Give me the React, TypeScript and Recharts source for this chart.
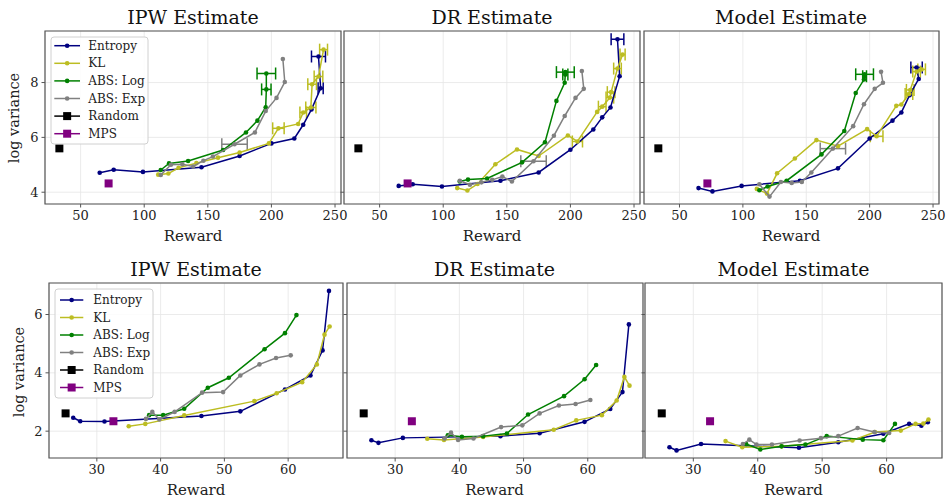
import React from "react";
import {
  ScatterChart,
  Scatter,
  XAxis,
  YAxis,
  CartesianGrid,
  ErrorBar,
  ReferenceArea,
} from "recharts";

const FONT = "'DejaVu Serif', serif";
const NAVY = "#000080";
const OLIVE = "#bcbd22";
const GREEN = "#008000";
const GREY = "#808080";
const BLACK = "#000000";
const PURPLE = "#800080";

const LABELS = ["Entropy", "KL", "ABS: Log", "ABS: Exp", "Random", "MPS"];
const TITLES = ["IPW Estimate", "DR Estimate", "Model Estimate"];

// ---- top row (reward 0-250) ----
const TOP_X_TICKS = [50, 100, 150, 200, 250];
const TOP_Y_TICKS = [4, 6, 8];

const TOP_X_ENTROPY = [65, 76, 99, 145, 175, 200, 218, 225, 231.5, 238.7, 237];
const TOP_IPW_ENTROPY = [4.71, 4.82, 4.74, 4.91, 5.32, 5.78, 5.96, 6.46, 7.02, 7.79, 8.95];
const TOP_DR_ENTROPY = [4.23, 4.29, 4.21, 4.42, 4.72, 5.55, 6.29, 6.73, 7.09, 8.23, 9.58];
const TOP_MODEL_ENTROPY = [4.15, 4.03, 4.23, 4.42, 4.87, 5.96, 6.61, 6.91, 7.54, 8.13, 8.55];
const TOP_IPW_ENTROPY_ERR = [0, 0, 0, 0, 0, 0, 0, 0, 0, 2, 5.5];
const TOP_DR_ENTROPY_ERR = [0, 0, 0, 0, 0, 0, 0, 0, 0, 0, 5];
const TOP_MODEL_ENTROPY_ERR = [0, 0, 0, 0, 0, 0, 0, 0, 0, 0, 4.5];

const TOP_X_KL = [111, 119, 127, 141, 158, 175, 198, 205.5, 221, 225, 231, 232, 237, 241];
const TOP_IPW_KL = [4.64, 4.68, 4.89, 5.06, 5.26, 5.45, 5.78, 6.33, 6.49, 6.91, 7.09, 7.94, 8.22, 9.2];
const TOP_DR_KL = [4.15, 4.06, 4.3, 5.02, 5.56, 5.32, 6.07, 5.85, 6.93, 7.12, 7.45, 7.65, 8.51, 9.02];
const TOP_MODEL_KL = [4.12, 3.95, 4.69, 5.23, 5.9, 5.68, 6.3, 6.04, 7.15, 7.2, 7.58, 7.73, 8.4, 8.48];
const TOP_IPW_KL_ERR = [0, 0, 0, 0, 0, 0, 0, 4.5, 0, 2.6, 4, 3.4, 3.4, 3.1];
const TOP_DR_KL_ERR = [0, 0, 0, 0, 0, 0, 0, 4, 0, 3, 3, 3, 3, 2];
const TOP_MODEL_KL_ERR = [0, 0, 0, 0, 0, 0, 0, 5, 0, 0, 3, 3, 3, 3];

const TOP_X_LOG = [113, 119.5, 134.5, 162, 180, 189, 195.5, 196, 196];
const TOP_IPW_LOG = [4.81, 5.05, 5.14, 5.54, 6.18, 6.61, 7.1, 7.75, 8.33];
const TOP_DR_LOG = [4.39, 4.46, 4.5, 5.09, 5.82, 7.33, 7.99, 8.29, 8.38];
const TOP_MODEL_LOG = [4.07, 4.21, 4.42, 5.38, 6.23, 7.62, 8.11, 8.23, 8.3];
const TOP_IPW_LOG_ERR = [0, 0, 0, 0, 0, 0, 0, 3.7, 7.3];
const TOP_DR_LOG_ERR = [0, 0, 0, 0, 0, 0, 0, 2, 7];
const TOP_MODEL_LOG_ERR = [0, 0, 0, 0, 0, 0, 0, 1.5, 7];

const TOP_X_EXP = [113, 121, 130, 138.5, 146.5, 154, 171, 187, 195.5, 204, 210.5, 209];
const TOP_IPW_EXP = [4.63, 5.0, 5.02, 4.94, 5.15, 5.3, 5.75, 6.18, 6.96, 7.44, 8.02, 8.86];
const TOP_DR_EXP = [4.42, 4.27, 4.36, 4.45, 4.57, 4.39, 5.13, 6.06, 6.78, 7.44, 7.77, 8.42];
const TOP_MODEL_EXP = [4.29, 3.84, 4.37, 4.34, 4.37, 4.72, 5.59, 6.41, 7.21, 7.77, 7.99, 8.39];
const TOP_EXP_ERR = [0, 0, 0, 0, 0, 0, 10, 0, 0, 0, 0, 0];

const TOP_RANDOM = [33.3, 5.6];
const TOP_MPS = [72, 4.32];

// ---- bottom row (reward 20-70) ----
const BOT_X_TICKS = [30, 40, 50, 60];
const BOT_Y_TICKS = [2, 4, 6];

const BOT_X_ENTROPY = [26.3, 27.4, 31.2, 46.4, 52.5, 59.5, 63.5, 65.4, 66.4];
const BOT_IPW_ENTROPY = [2.46, 2.34, 2.33, 2.52, 2.68, 3.43, 3.91, 4.77, 6.81];
const BOT_DR_ENTROPY = [1.69, 1.6, 1.77, 1.83, 1.93, 2.32, 2.76, 3.34, 5.66];
const BOT_MODEL_ENTROPY = [1.45, 1.34, 1.56, 1.43, 1.62, 1.91, 2.25, 2.19, 2.31];

const BOT_X_KL = [35, 37.6, 43.7, 54.7, 58.2, 62.2, 64.5, 65.7, 66.5];
const BOT_IPW_KL = [2.17, 2.25, 2.54, 3.03, 3.3, 3.68, 4.29, 5.31, 5.59];
const BOT_DR_KL = [1.74, 1.7, 1.8, 2.05, 2.37, 2.55, 3.05, 3.86, 3.56];
const BOT_MODEL_KL = [1.66, 1.45, 1.48, 1.68, 1.97, 2.02, 2.25, 2.26, 2.4];

const BOT_X_LOG = [38.2, 40.4, 43.7, 47.4, 50.7, 56.3, 59.5, 61.3];
const BOT_IPW_LOG = [2.55, 2.55, 2.77, 3.49, 3.83, 4.81, 5.36, 5.98];
const BOT_DR_LOG = [1.86, 1.81, 1.83, 1.92, 2.57, 3.2, 3.78, 4.27];
const BOT_MODEL_LOG = [1.56, 1.37, 1.48, 1.54, 1.83, 1.71, 1.69, 2.25];

const BOT_X_EXP = [37.7, 38.7, 39.8, 42.2, 46.5, 49.8, 52.5, 55.5, 58.1, 60.4];
const BOT_IPW_EXP = [2.42, 2.66, 2.4, 2.66, 3.32, 3.34, 3.91, 4.29, 4.51, 4.6];
const BOT_DR_EXP = [1.75, 1.95, 1.7, 1.75, 2.14, 2.2, 2.61, 2.88, 2.93, 3.07];
const BOT_MODEL_EXP = [1.56, 1.71, 1.54, 1.54, 1.68, 1.76, 1.83, 2.11, 1.97, 1.94];

const BOT_RANDOM = [25.1, 2.61];
const BOT_MPS = [32.6, 2.34];

type Pt = { x: number; y: number; ex: number };
type Series = { name: string; color: string; square?: boolean; data: Pt[] };

function pts(xs: number[], ys: number[], ex?: number[]): Pt[] {
  return xs.map((x, i) => ({ x, y: ys[i], ex: ex ? ex[i] : 0 }));
}

function single(p: number[]): Pt[] {
  return [{ x: p[0], y: p[1], ex: 0 }];
}

const COLORS = [NAVY, OLIVE, GREEN, GREY, BLACK, PURPLE];

function makeSeries(lines: Pt[][], random: number[], mps: number[]): Series[] {
  const out: Series[] = lines.map((d, i) => ({ name: LABELS[i], color: COLORS[i], data: d }));
  out.push({ name: "Random", color: BLACK, square: true, data: single(random) });
  out.push({ name: "MPS", color: PURPLE, square: true, data: single(mps) });
  return out;
}

const TOP_SERIES = [
  makeSeries(
    [
      pts(TOP_X_ENTROPY, TOP_IPW_ENTROPY, TOP_IPW_ENTROPY_ERR),
      pts(TOP_X_KL, TOP_IPW_KL, TOP_IPW_KL_ERR),
      pts(TOP_X_LOG, TOP_IPW_LOG, TOP_IPW_LOG_ERR),
      pts(TOP_X_EXP, TOP_IPW_EXP, TOP_EXP_ERR),
    ],
    TOP_RANDOM,
    TOP_MPS
  ),
  makeSeries(
    [
      pts(TOP_X_ENTROPY, TOP_DR_ENTROPY, TOP_DR_ENTROPY_ERR),
      pts(TOP_X_KL, TOP_DR_KL, TOP_DR_KL_ERR),
      pts(TOP_X_LOG, TOP_DR_LOG, TOP_DR_LOG_ERR),
      pts(TOP_X_EXP, TOP_DR_EXP, TOP_EXP_ERR),
    ],
    TOP_RANDOM,
    TOP_MPS
  ),
  makeSeries(
    [
      pts(TOP_X_ENTROPY, TOP_MODEL_ENTROPY, TOP_MODEL_ENTROPY_ERR),
      pts(TOP_X_KL, TOP_MODEL_KL, TOP_MODEL_KL_ERR),
      pts(TOP_X_LOG, TOP_MODEL_LOG, TOP_MODEL_LOG_ERR),
      pts(TOP_X_EXP, TOP_MODEL_EXP, TOP_EXP_ERR),
    ],
    TOP_RANDOM,
    TOP_MPS
  ),
];

const BOT_SERIES = [
  makeSeries(
    [
      pts(BOT_X_ENTROPY, BOT_IPW_ENTROPY),
      pts(BOT_X_KL, BOT_IPW_KL),
      pts(BOT_X_LOG, BOT_IPW_LOG),
      pts(BOT_X_EXP, BOT_IPW_EXP),
    ],
    BOT_RANDOM,
    BOT_MPS
  ),
  makeSeries(
    [
      pts(BOT_X_ENTROPY, BOT_DR_ENTROPY),
      pts(BOT_X_KL, BOT_DR_KL),
      pts(BOT_X_LOG, BOT_DR_LOG),
      pts(BOT_X_EXP, BOT_DR_EXP),
    ],
    BOT_RANDOM,
    BOT_MPS
  ),
  makeSeries(
    [
      pts(BOT_X_ENTROPY, BOT_MODEL_ENTROPY),
      pts(BOT_X_KL, BOT_MODEL_KL),
      pts(BOT_X_LOG, BOT_MODEL_LOG),
      pts(BOT_X_EXP, BOT_MODEL_EXP),
    ],
    BOT_RANDOM,
    BOT_MPS
  ),
];

type Row = {
  top: number;
  h: number;
  xDomain: [number, number];
  yDomain: [number, number];
  xTicks: number[];
  yTicks: number[];
  panels: { left: number; w: number }[];
};

const ROW_TOP: Row = {
  top: 31,
  h: 173,
  xDomain: [22, 254.7],
  yDomain: [3.57, 9.88],
  xTicks: TOP_X_TICKS,
  yTicks: TOP_Y_TICKS,
  panels: [
    { left: 45, w: 296 },
    { left: 344, w: 296 },
    { left: 643.5, w: 295 },
  ],
};

const ROW_BOT: Row = {
  top: 283,
  h: 175,
  xDomain: [22.5, 68.6],
  yDomain: [1.08, 7.08],
  xTicks: BOT_X_TICKS,
  yTicks: BOT_Y_TICKS,
  panels: [
    { left: 49, w: 294 },
    { left: 346.5, w: 296 },
    { left: 645, w: 297 },
  ],
};

function dotShape(color: string, square?: boolean) {
  return (p: any) =>
    square ? (
      <rect x={p.cx - 4} y={p.cy - 4} width={8} height={8} fill={color} />
    ) : (
      <circle cx={p.cx} cy={p.cy} r={2.3} fill={color} />
    );
}

const tickStyle = { fontSize: 13, fill: "#222", fontFamily: FONT };

function Panel({ row, idx, series }: { row: Row; idx: number; series: Series[] }) {
  const { left, w } = row.panels[idx];
  const ml = 40;
  const mt = 10;
  const mr = 12;
  return (
    <>
      <div style={{ position: "absolute", left: left - ml, top: row.top - mt }}>
        <ScatterChart
          width={w + ml + mr}
          height={row.h + mt + 30}
          margin={{ top: mt, right: mr, bottom: 0, left: 0 }}
        >
          <CartesianGrid stroke="#e6e6e6" strokeWidth={0.8} />
          <XAxis
            type="number"
            dataKey="x"
            domain={row.xDomain}
            ticks={row.xTicks}
            interval={0}
            allowDataOverflow
            height={30}
            axisLine={false}
            tickLine={{ stroke: "#555" }}
            tickSize={3.5}
            tickMargin={3}
            tick={tickStyle}
          />
          <YAxis
            type="number"
            dataKey="y"
            domain={row.yDomain}
            ticks={row.yTicks}
            interval={0}
            allowDataOverflow
            width={ml}
            axisLine={false}
            tickLine={{ stroke: "#555" }}
            tickSize={3.5}
            tickMargin={3}
            tick={tickStyle}
            tickFormatter={idx === 0 ? undefined : () => ""}
          />
          <ReferenceArea
            x1={row.xDomain[0]}
            x2={row.xDomain[1]}
            y1={row.yDomain[0]}
            y2={row.yDomain[1]}
            fill="none"
            stroke="#555"
            strokeWidth={1.2}
            ifOverflow="visible"
          />
          {series.map((s) => (
            <Scatter
              key={s.name}
              name={s.name}
              data={s.data}
              fill={s.color}
              line={s.square ? false : { stroke: s.color, strokeWidth: 1.5 }}
              lineType="joint"
              shape={dotShape(s.color, s.square)}
              isAnimationActive={false}
            >
              {!s.square && (
                <ErrorBar dataKey="ex" direction="x" width={6} stroke={s.color} strokeWidth={1.5} />
              )}
            </Scatter>
          ))}
        </ScatterChart>
      </div>
      <div
        style={{
          position: "absolute",
          left: left + w / 2,
          top: row.top - 14,
          transform: "translate(-50%, -50%)",
          fontFamily: FONT,
          fontSize: 19,
          lineHeight: 1,
          whiteSpace: "nowrap",
          color: "#111",
        }}
      >
        {TITLES[idx]}
      </div>
      <div
        style={{
          position: "absolute",
          left: left + w / 2,
          top: row.top + row.h + 32,
          transform: "translate(-50%, -50%)",
          fontFamily: FONT,
          fontSize: 15,
          lineHeight: 1,
          whiteSpace: "nowrap",
          color: "#222",
        }}
      >
        Reward
      </div>
    </>
  );
}

function LegendBox({ left, top, w, h, y0, step, lx0, lx1, tx }: any) {
  return (
    <svg
      width={w + 2}
      height={h + 2}
      style={{ position: "absolute", left: left - 1, top: top - 1 }}
    >
      <rect x={1} y={1} width={w} height={h} rx={3} fill="white" fillOpacity={0.85} stroke="#d0d0d0" />
      {LABELS.map((label, i) => {
        const y = 1 + y0 + i * step;
        const cx = 1 + (lx0 + lx1) / 2;
        return (
          <g key={label}>
            <line x1={1 + lx0} x2={1 + lx1} y1={y} y2={y} stroke={COLORS[i]} strokeWidth={1.5} />
            {i < 4 ? (
              <circle cx={cx} cy={y} r={2.3} fill={COLORS[i]} />
            ) : (
              <rect x={cx - 4} y={y - 4} width={8} height={8} fill={COLORS[i]} />
            )}
            <text
              x={1 + tx}
              y={y}
              dominantBaseline="central"
              fontFamily={FONT}
              fontSize={12}
              fill="#222"
            >
              {label}
            </text>
          </g>
        );
      })}
    </svg>
  );
}

function YLabel({ x, y }: { x: number; y: number }) {
  return (
    <div
      style={{
        position: "absolute",
        left: x,
        top: y,
        transform: "translate(-50%, -50%) rotate(-90deg)",
        fontFamily: FONT,
        fontSize: 14.5,
        lineHeight: 1,
        whiteSpace: "nowrap",
        color: "#222",
      }}
    >
      log variance
    </div>
  );
}

export default function App() {
  return (
    <div
      style={{
        position: "fixed",
        left: 0,
        top: 0,
        width: 947,
        height: 497,
        background: "#fff",
        overflow: "hidden",
      }}
    >
      {[0, 1, 2].map((i) => (
        <Panel key={"t" + i} row={ROW_TOP} idx={i} series={TOP_SERIES[i]} />
      ))}
      {[0, 1, 2].map((i) => (
        <Panel key={"b" + i} row={ROW_BOT} idx={i} series={BOT_SERIES[i]} />
      ))}
      <YLabel x={14} y={117.5} />
      <YLabel x={19} y={372} />
      <LegendBox left={51} top={37} w={97} h={107} y0={8.7} step={17.6} lx0={3.3} lx1={29} tx={37.3} />
      <LegendBox left={55} top={289} w={98} h={109} y0={11} step={17.5} lx0={5} lx1={28.3} tx={38.3} />
    </div>
  );
}
